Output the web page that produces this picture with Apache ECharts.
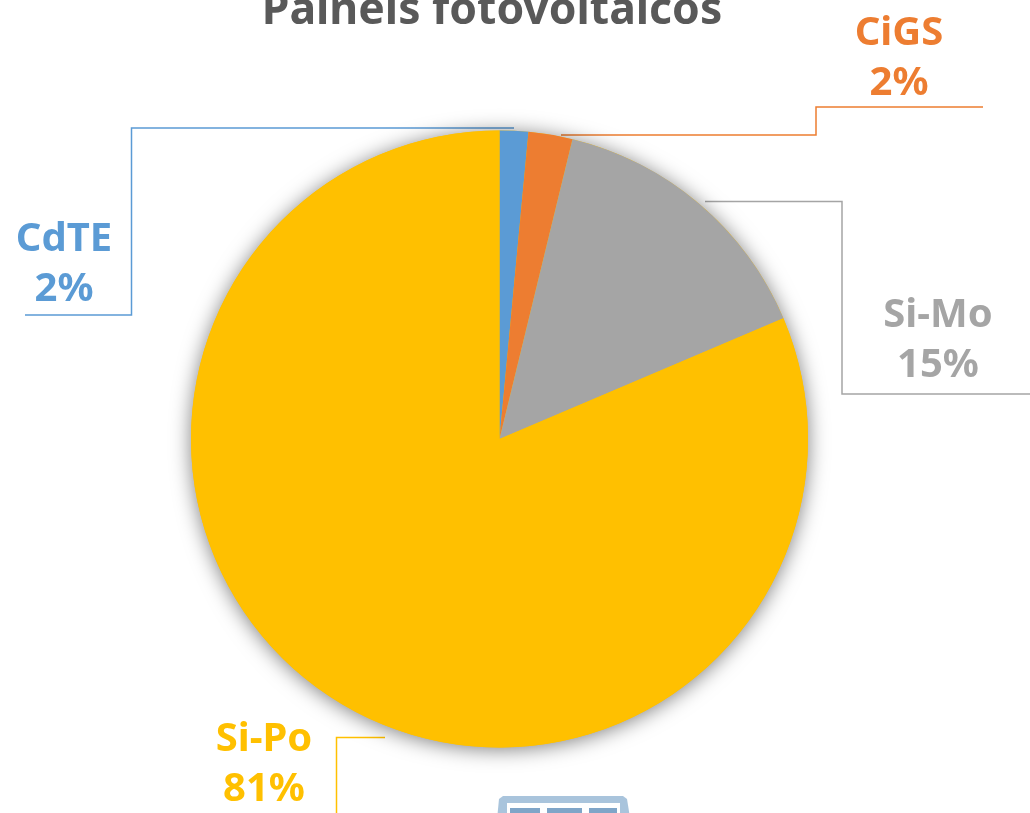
<!DOCTYPE html>
<html>
<head>
<meta charset="utf-8">
<title>Painéis fotovoltaicos</title>
<script src="https://cdn.jsdelivr.net/npm/echarts@6/dist/echarts.min.js"></script>
<style>
  html, body { margin: 0; padding: 0; background: #fff; overflow: hidden; }
  #chart { width: 1030px; height: 813px; }
</style>
</head>
<body>
<div id="chart"></div>
<script>
const chartTitle = 'Painéis fotovoltaicos';
const categories = ['CdTE', 'CiGS', 'Si-Mo', 'Si-Po'];
const shares = [1.5, 2.3, 14.8, 81.4];
const colors = ['#5B9BD5', '#ED7D31', '#A5A5A5', '#FFC000'];
// label anchor (centre of the text block) and the elbow lines, page pixels
const labelSpots = [[64, 265], [899, 59], [938, 341], [264, 765]];
const leaderLines = [
  [[514, 128], [131.5, 128], [131.5, 315], [25, 315]],
  [[561, 135], [816, 135], [816, 107], [983, 107]],
  [[705, 201.5], [842, 201.5], [842, 394], [1030, 394]],
  [[385, 737.5], [336.5, 737.5], [336.5, 813]]
];

const font = '"Noto Sans", sans-serif';
const chart = echarts.init(document.getElementById('chart'), null, { renderer: 'canvas' });

chart.setOption({
  animation: false,
  backgroundColor: '#fff',
  title: {
    text: chartTitle,
    left: 487,
    top: -16,
    textAlign: 'center',
    textStyle: { color: '#595959', fontFamily: font, fontWeight: 'bold', fontSize: 44.5 }
  },
  series: [
    {
      // only there to throw the shadow under the whole pie
      type: 'pie',
      silent: true,
      center: [499.5, 439],
      radius: 308.5,
      label: { show: false },
      labelLine: { show: false },
      itemStyle: { color: '#FFC000', shadowBlur: 20, shadowColor: 'rgba(0,0,0,0.5)', shadowOffsetY: 2 },
      data: [shares.reduce((a, b) => a + b, 0)]
    },
    {
      type: 'pie',
      center: [499.5, 439],
      radius: 308.5,
      startAngle: 90,
      clockwise: true,
      percentPrecision: 0,
      data: categories.map((name, i) => ({
        name: name,
        value: shares[i],
        itemStyle: { color: colors[i] },
        label: { color: colors[i] },
        labelLine: { lineStyle: { color: colors[i], width: 1.5 } }
      })),
      label: {
        show: true,
        position: 'outside',
        formatter: '{b}\n{d}%',
        fontFamily: font,
        fontWeight: 'bold',
        fontSize: 40,
        lineHeight: 50,
        align: 'center',
        verticalAlign: 'middle'
      },
      labelLine: { show: true, smooth: false },
      labelLayout: function (params) {
        const i = params.dataIndex;
        return {
          x: labelSpots[i][0],
          y: labelSpots[i][1],
          align: 'center',
          verticalAlign: 'middle',
          labelLinePoints: leaderLines[i]
        };
      }
    }
  ],
  graphic: [
    // solar panel picture peeking in at the bottom edge
    { type: 'polygon', shape: { points: [[496, 830], [499, 799], [503, 796], [623, 796], [627, 799], [632, 830]] }, style: { fill: '#A9C4DC' } },
    { type: 'rect', shape: { x: 507, y: 803, width: 113, height: 20 }, style: { fill: '#fff' } },
    { type: 'rect', shape: { x: 510, y: 808, width: 30, height: 10 }, style: { fill: '#7FA5C8' } },
    { type: 'rect', shape: { x: 547, y: 808, width: 35, height: 10 }, style: { fill: '#7FA5C8' } },
    { type: 'rect', shape: { x: 589, y: 808, width: 28, height: 10 }, style: { fill: '#7FA5C8' } }
  ]
});
</script>
</body>
</html>
